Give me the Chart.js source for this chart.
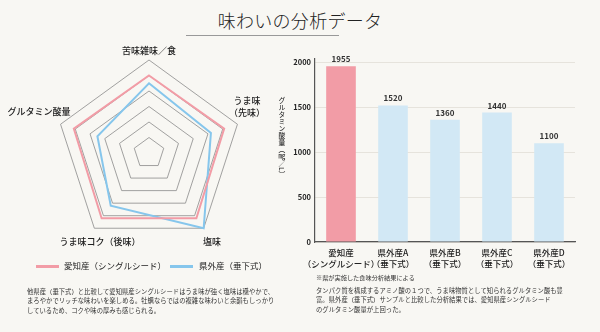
<!DOCTYPE html>
<html><head><meta charset="utf-8">
<script src="https://cdn.jsdelivr.net/npm/chart.js@4.4.1/dist/chart.umd.min.js"></script>
<style>
html,body{margin:0;padding:0;}
body{width:600px;height:332px;background:#f8f7f3;position:relative;overflow:hidden;font-family:"Noto Sans CJK JP",sans-serif;color:#222;}
#title{position:absolute;left:0;width:600px;top:8px;text-align:center;font-size:18px;letter-spacing:0.3px;font-weight:300;line-height:24px;}
#uline{position:absolute;left:186px;width:153px;top:35px;height:0;border-top:1.5px solid #999;}
#radarWrap{position:absolute;left:51px;top:55px;width:197px;height:197px;}
#barWrap{position:absolute;left:280px;top:40px;width:320px;height:235px;}
.rl{position:absolute;transform:translate(-50%,-50%);font-size:9px;line-height:11.5px;color:#222;white-space:nowrap;text-align:center;font-weight:500;}
.leg{position:absolute;top:259px;font-size:8.5px;line-height:12px;color:#222;}
.legline{position:absolute;top:265px;height:2.5px;width:23px;}
.para{position:absolute;font-size:6.3px;line-height:9.4px;color:#333;white-space:nowrap;letter-spacing:0.05px;}
#ytitle{position:absolute;left:278px;top:97px;writing-mode:vertical-rl;font-size:6.8px;line-height:8px;color:#333;font-weight:500;letter-spacing:0.2px;}
#note{position:absolute;left:316px;top:273px;font-size:6.2px;color:#333;white-space:nowrap;}
</style></head>
<body>
<div id="title">味わいの分析データ</div>
<div id="uline"></div>
<div id="radarWrap"><canvas id="radar"></canvas></div>
<div id="radarLabels"></div>
<div id="barWrap"><canvas id="bar"></canvas></div>
<div class="legline" style="left:36px;background:#f29ca6"></div>
<div class="leg" style="left:64px">愛知産（シングルシード）</div>
<div class="legline" style="left:170px;background:#86c6ec"></div>
<div class="leg" style="left:199px">県外産（垂下式）</div>
<div id="ytitle">グルタミン酸量（㎎／L）</div>
<div id="note">※県が実施した食味分析結果による</div>
<div class="para" style="left:27px;top:287px">他県産（垂下式）と比較して愛知県産シングルシードはうま味が強く塩味は穏やかで、<br>まろやかでリッチな味わいを楽しめる。牡蠣ならではの複雑な味わいと余韻もしっかり<br>しているため、コクや味の厚みも感じられる。</div>
<div class="para" style="left:316px;top:286px">タンパク質を構成するアミノ酸の１つで、うま味物質として知られるグルタミン酸も豊<br>富。県外産（垂下式）サンプルと比較した分析結果では、愛知県産シングルシード<br>のグルタミン酸量が上回った。</div>
<script>
// ---- Radar data ----
const radarLabels = ['苦味雑味／食', 'うま味\n（先味）', '塩味', 'うま味コク（後味）', 'グルタミン酸量'];
const radarSeriesNames = ['愛知産（シングルシード）', '県外産（垂下式）'];
const aichiScores = [5.0, 5.1, 5.2, 5.2, 5.1];
const otherScores = [4.5, 4.2, 6.0, 4.2, 3.5];

// ---- Bar data ----
const barCategories = [['愛知産', '（シングルシード）'], ['県外産A', '（垂下式）'], ['県外産B', '（垂下式）'], ['県外産C', '（垂下式）'], ['県外産D', '（垂下式）']];
const glutamate = [1955, 1520, 1360, 1440, 1100];
const yTicks = [0, 500, 1000, 1500, 2000];

const PINK = '#f29ca6', BLUE = '#86c6ec', BLUE_BAR = '#d2e8f5';
const JP = '"Noto Sans CJK JP", sans-serif';

// label anchor positions on the page (label layout only)
const radarLabelPos = [[149, 51], [247, 106], [212, 242], [100, 242], [39, 112]];
const holder = document.getElementById('radarLabels');
radarLabels.forEach((t, i) => {
  const d = document.createElement('div');
  d.className = 'rl';
  d.style.left = radarLabelPos[i][0] + 'px';
  d.style.top = radarLabelPos[i][1] + 'px';
  d.innerHTML = t.replace('\n', '<br>');
  holder.appendChild(d);
});

new Chart(document.getElementById('radar'), {
  type: 'radar',
  data: {
    labels: radarLabels,
    datasets: [
      {label: radarSeriesNames[0], data: aichiScores, borderColor: PINK, borderWidth: 2, fill: false, pointRadius: 0},
      {label: radarSeriesNames[1], data: otherScores, borderColor: BLUE, borderWidth: 2, fill: false, pointRadius: 0}
    ]
  },
  options: {
    responsive: true, maintainAspectRatio: false, animation: false,
    layout: {padding: 5},
    plugins: {legend: {display: false}, tooltip: {enabled: false}},
    scales: {
      r: {
        min: 0, max: 6,
        ticks: {display: false, stepSize: 1},
        grid: {color: '#8a8a8a', lineWidth: 0.8},
        angleLines: {display: false},
        pointLabels: {display: false}
      }
    }
  }
});

const valueLabelPlugin = {
  id: 'valueLabels',
  afterDatasetsDraw(chart) {
    const ctx = chart.ctx;
    const meta = chart.getDatasetMeta(0);
    ctx.save();
    ctx.font = '600 8px ' + JP;
    ctx.fillStyle = '#333';
    ctx.textAlign = 'center';
    ctx.textBaseline = 'bottom';
    meta.data.forEach((el, i) => {
      ctx.fillText(String(chart.data.datasets[0].data[i]), el.x, el.y - 3);
    });
    ctx.restore();
  }
};

new Chart(document.getElementById('bar'), {
  type: 'bar',
  data: {
    labels: barCategories,
    datasets: [{
      label: 'グルタミン酸量（㎎／L）',
      data: glutamate,
      backgroundColor: glutamate.map((v, i) => i === 0 ? PINK : BLUE_BAR),
      barPercentage: 0.57, categoryPercentage: 1.0
    }]
  },
  plugins: [valueLabelPlugin],
  options: {
    responsive: true, maintainAspectRatio: false, animation: false,
    layout: {padding: {top: 18.7, right: 25, left: 0, bottom: 0}},
    plugins: {legend: {display: false}, tooltip: {enabled: false}},
    scales: {
      x: {
        grid: {display: false, drawTicks: false},
        border: {display: true, color: '#555', width: 1.2},
        ticks: {font: {family: JP, size: 8.5, weight: 500}, color: '#222', padding: 6, maxRotation: 0, autoSkip: false},
        afterFit: s => { s.height = 33; }
      },
      y: {
        min: 0, max: 2040,
        afterBuildTicks: s => { s.ticks = yTicks.map(v => ({value: v})); },
        grid: {color: '#e6e3dc', lineWidth: 1, drawTicks: false},
        border: {display: true, color: '#555', width: 1.2},
        ticks: {font: {family: JP, size: 7.5, weight: 700}, color: '#222', padding: 4, callback: v => String(v)},
        afterFit: s => { s.width = 35; }
      }
    }
  }
});
</script>
</body></html>
